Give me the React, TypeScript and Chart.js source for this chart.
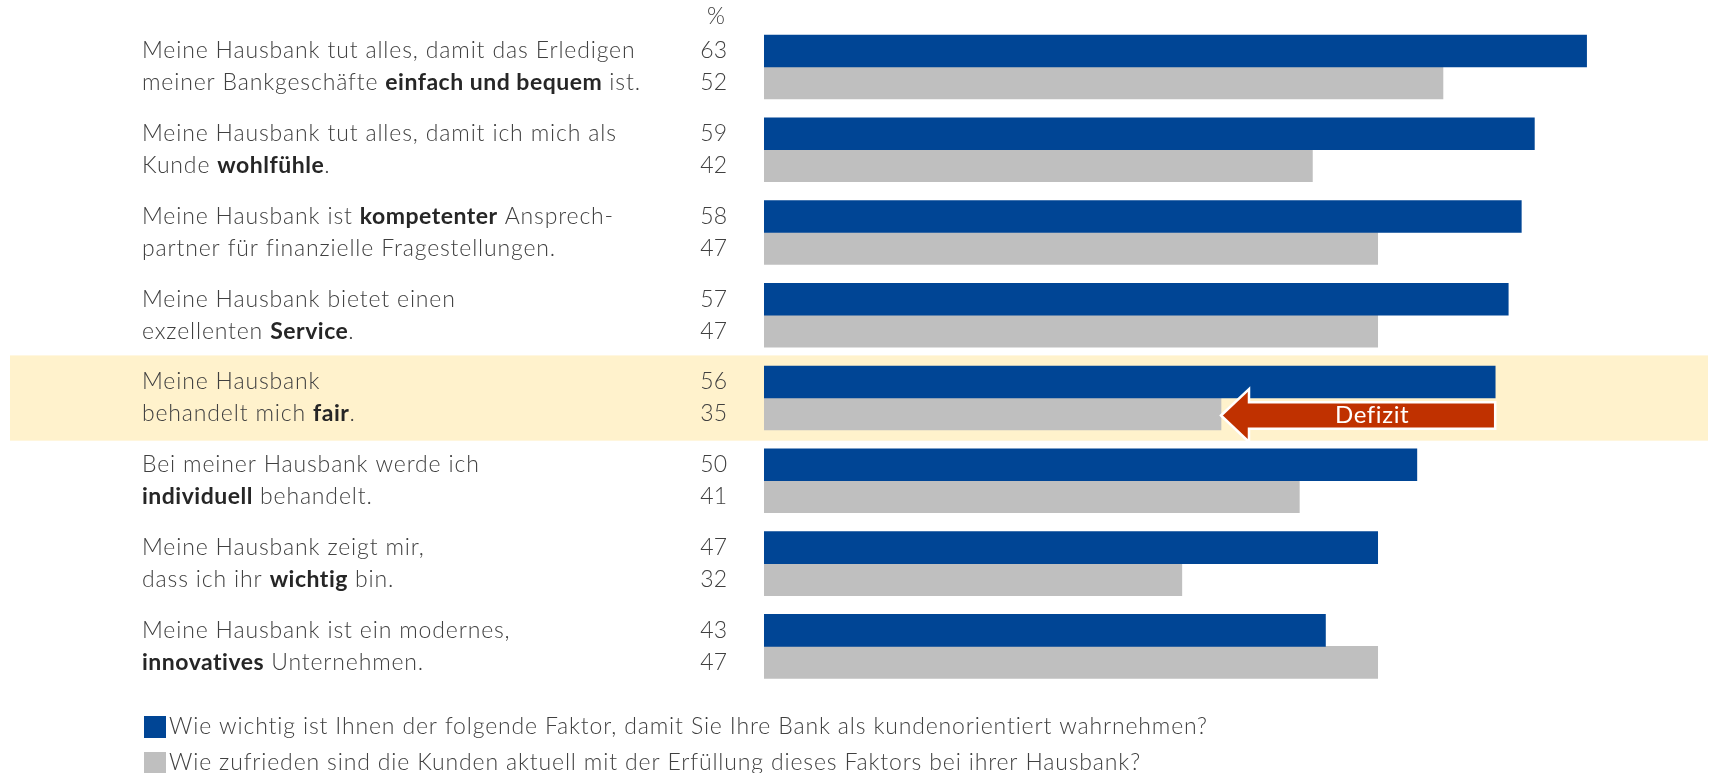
import React, { useEffect, useRef } from "react";
import { Chart, registerables } from "chart.js";

Chart.register(...registerables);

// ---------- data ----------
const categoryLines: string[][] = [
  ["Meine Hausbank tut alles, damit das Erledigen", "meiner Bankgeschäfte **einfach und bequem** ist."],
  ["Meine Hausbank tut alles, damit ich mich als", "Kunde **wohlfühle**."],
  ["Meine Hausbank ist **kompetenter** Ansprech-", "partner für finanzielle Fragestellungen."],
  ["Meine Hausbank bietet einen", "exzellenten **Service**."],
  ["Meine Hausbank", "behandelt mich **fair**."],
  ["Bei meiner Hausbank werde ich", "**individuell** behandelt."],
  ["Meine Hausbank zeigt mir,", "dass ich ihr **wichtig** bin."],
  ["Meine Hausbank ist ein modernes,", "**innovatives** Unternehmen."],
];
const importance: number[] = [63, 59, 58, 57, 56, 50, 47, 43];
const satisfaction: number[] = [52, 42, 47, 47, 35, 41, 32, 47];
const seriesNames: string[] = [
  "Wie wichtig ist Ihnen der folgende Faktor, damit Sie Ihre Bank als kundenorientiert wahrnehmen?",
  "Wie zufrieden sind die Kunden aktuell mit der Erfüllung dieses Faktors bei ihrer Hausbank?",
];
const unitLabel = "%";
const highlightIndex = 4;
const deficitLabel = "Defizit";

// ---------- styles ----------
const W = 1712;
const H = 773;
const FONT = "Lato, 'Open Sans', sans-serif";
const TEXT = "#404040";
const BOLD = "#262626";
const BLUE = "#004595";
const GRAY = "#BFBFBF";
const RED = "#C03100";
const BAND = "#FFF2CC";
const FS = 23;
const LS = "0.85px";
const LS_BOLD = "0.5px";

function drawRich(ctx: any, text: string, x: number, y: number, size: number) {
  const parts = text.split("**");
  let cx = x;
  parts.forEach((p, i) => {
    const bold = i % 2 === 1;
    ctx.letterSpacing = bold ? LS_BOLD : LS;
    ctx.font = `${bold ? 700 : 300} ${size}px ${FONT}`;
    ctx.fillStyle = bold ? BOLD : TEXT;
    ctx.fillText(p, cx, y);
    cx += ctx.measureText(p).width;
  });
  ctx.letterSpacing = "0px";
}

const customPlugin = {
  id: "custom",
  beforeDatasetsDraw(chart: any) {
    const ctx: CanvasRenderingContext2D = chart.ctx;
    const y = chart.scales.y;
    const step = y.getPixelForValue(1) - y.getPixelForValue(0);
    const c = y.getPixelForValue(highlightIndex);
    ctx.save();
    ctx.fillStyle = BAND;
    ctx.fillRect(10, c - step * 0.515, W - 14, step * 1.03);
    ctx.restore();
  },
  afterDatasetsDraw(chart: any) {
    const ctx: any = chart.ctx;
    const area = chart.chartArea;
    const xs = chart.scales.x;
    const m0 = chart.getDatasetMeta(0);
    const m1 = chart.getDatasetMeta(1);
    ctx.save();
    ctx.textBaseline = "middle";

    // unit label
    ctx.font = `300 ${FS}px ${FONT}`;
    ctx.fillStyle = TEXT;
    ctx.textAlign = "center";
    ctx.fillText(unitLabel, area.left - 48, m0.data[0].y - 34);

    // category labels and values
    categoryLines.forEach((lines, i) => {
      const ys = [m0.data[i].y, m1.data[i].y];
      ctx.textAlign = "left";
      lines.forEach((ln, k) => drawRich(ctx, ln, 142, ys[k], FS));
      ctx.textAlign = "right";
      ctx.font = `300 ${FS}px ${FONT}`;
      ctx.fillStyle = TEXT;
      ctx.fillText(String(importance[i]), area.left - 37, ys[0]);
      ctx.fillText(String(satisfaction[i]), area.left - 37, ys[1]);
    });

    // deficit arrow
    const xg = xs.getPixelForValue(satisfaction[highlightIndex]);
    const xb = xs.getPixelForValue(importance[highlightIndex]);
    const yc = m1.data[highlightIndex].y + 1.5;
    const headLen = 28;
    const headHalf = 26.5;
    const shaftHalf = 13.3;
    ctx.beginPath();
    ctx.moveTo(xg, yc);
    ctx.lineTo(xg + headLen, yc - headHalf);
    ctx.lineTo(xg + headLen, yc - shaftHalf);
    ctx.lineTo(xb, yc - shaftHalf);
    ctx.lineTo(xb, yc + shaftHalf);
    ctx.lineTo(xg + headLen, yc + shaftHalf);
    ctx.lineTo(xg + headLen, yc + headHalf);
    ctx.closePath();
    ctx.fillStyle = RED;
    ctx.fill();
    ctx.lineWidth = 2.5;
    ctx.strokeStyle = "#ffffff";
    ctx.stroke();
    ctx.fillStyle = "#ffffff";
    ctx.textAlign = "center";
    ctx.letterSpacing = "0.6px";
    ctx.font = `400 24px ${FONT}`;
    ctx.fillText(deficitLabel, (xg + headLen + xb) / 2, yc);
    ctx.letterSpacing = "0px";

    // legend
    const colors = [BLUE, GRAY];
    const legendY = [727, 763];
    seriesNames.forEach((name, k) => {
      ctx.fillStyle = colors[k];
      ctx.fillRect(144, legendY[k] - 11, 22, 22);
      ctx.textAlign = "left";
      ctx.letterSpacing = LS;
      ctx.font = `300 ${FS}px ${FONT}`;
      ctx.fillStyle = TEXT;
      ctx.fillText(name, 169, legendY[k]);
      ctx.letterSpacing = "0px";
    });
    ctx.restore();
  },
};

export default function App() {
  const ref = useRef<HTMLCanvasElement | null>(null);
  useEffect(() => {
    if (!ref.current) return;
    const chart = new Chart(ref.current, {
      type: "bar",
      data: {
        labels: categoryLines.map((l) => l.join(" ").replace(/\*\*/g, "")),
        datasets: [
          { label: seriesNames[0], data: importance, backgroundColor: BLUE, barThickness: 32 },
          { label: seriesNames[1], data: satisfaction, backgroundColor: GRAY, barThickness: 32 },
        ],
      },
      options: {
        indexAxis: "y",
        responsive: false,
        animation: false,
        devicePixelRatio: 1,
        layout: { padding: { left: 764, right: 34, top: 25.6, bottom: 85.3 } },
        scales: {
          x: { display: false, min: 0, max: 70 },
          y: { display: false },
        },
        plugins: { legend: { display: false }, tooltip: { enabled: false } },
      },
      plugins: [customPlugin],
    } as any);
    return () => chart.destroy();
  }, []);
  return (
    <div style={{ position: "absolute", left: 0, top: 0, width: W, height: H, background: "#fff" }}>
      <canvas ref={ref} width={W} height={H} style={{ display: "block", width: W, height: H }} />
    </div>
  );
}
